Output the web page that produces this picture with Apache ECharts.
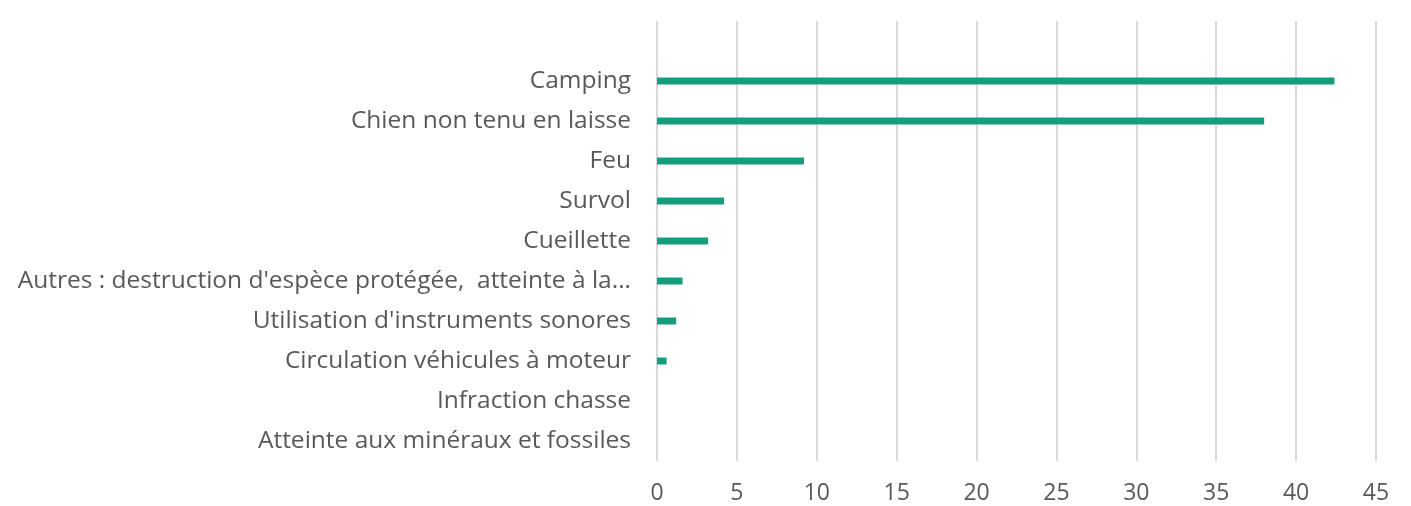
<!DOCTYPE html>
<html>
<head>
<meta charset="utf-8">
<script src="https://cdn.jsdelivr.net/npm/echarts@6/dist/echarts.min.js"></script>
<style>
  html, body { margin: 0; padding: 0; background: #fff; }
  #chart { width: 1411px; height: 506px; }
</style>
</head>
<body>
<div id="chart"></div>
<script>
// categories top to bottom (first one is the empty slot above "Camping")
var categories = [
  '',
  'Camping',
  'Chien non tenu en laisse',
  'Feu',
  'Survol',
  'Cueillette',
  "Autres : destruction d'espèce protégée,  atteinte à la...",
  "Utilisation d'instruments sonores",
  'Circulation véhicules à moteur',
  'Infraction chasse',
  'Atteinte aux minéraux et fossiles'
];
var values = [null, 42.4, 38.0, 9.2, 4.2, 3.2, 1.6, 1.2, 0.6, 0, 0];
var xTicks = [0, 5, 10, 15, 20, 25, 30, 35, 40, 45];

var chart = echarts.init(document.getElementById('chart'));
var textColor = '#595959';
var fontName = '"Open Sans", sans-serif';

chart.setOption({
  animation: false,
  grid: {
    left: 657,
    right: 35,
    top: 21,
    bottom: 45,
    containLabel: false
  },
  xAxis: {
    type: 'value',
    min: xTicks[0],
    max: xTicks[xTicks.length - 1],
    interval: 5,
    axisLine: { show: false },
    axisTick: { show: false },
    axisLabel: {
      color: textColor,
      fontFamily: fontName,
      fontSize: 23,
      margin: 21
    },
    splitLine: { lineStyle: { color: '#d9d9d9', width: 2 } }
  },
  yAxis: {
    type: 'category',
    inverse: true,
    data: categories,
    axisLine: { show: false },
    axisTick: { show: false },
    axisLabel: {
      color: textColor,
      fontFamily: fontName,
      fontSize: 24.5,
      margin: 26
    }
  },
  series: [{
    type: 'bar',
    data: values,
    barWidth: 7,
    itemStyle: { color: '#179c7d' }
  }]
});
</script>
</body>
</html>
